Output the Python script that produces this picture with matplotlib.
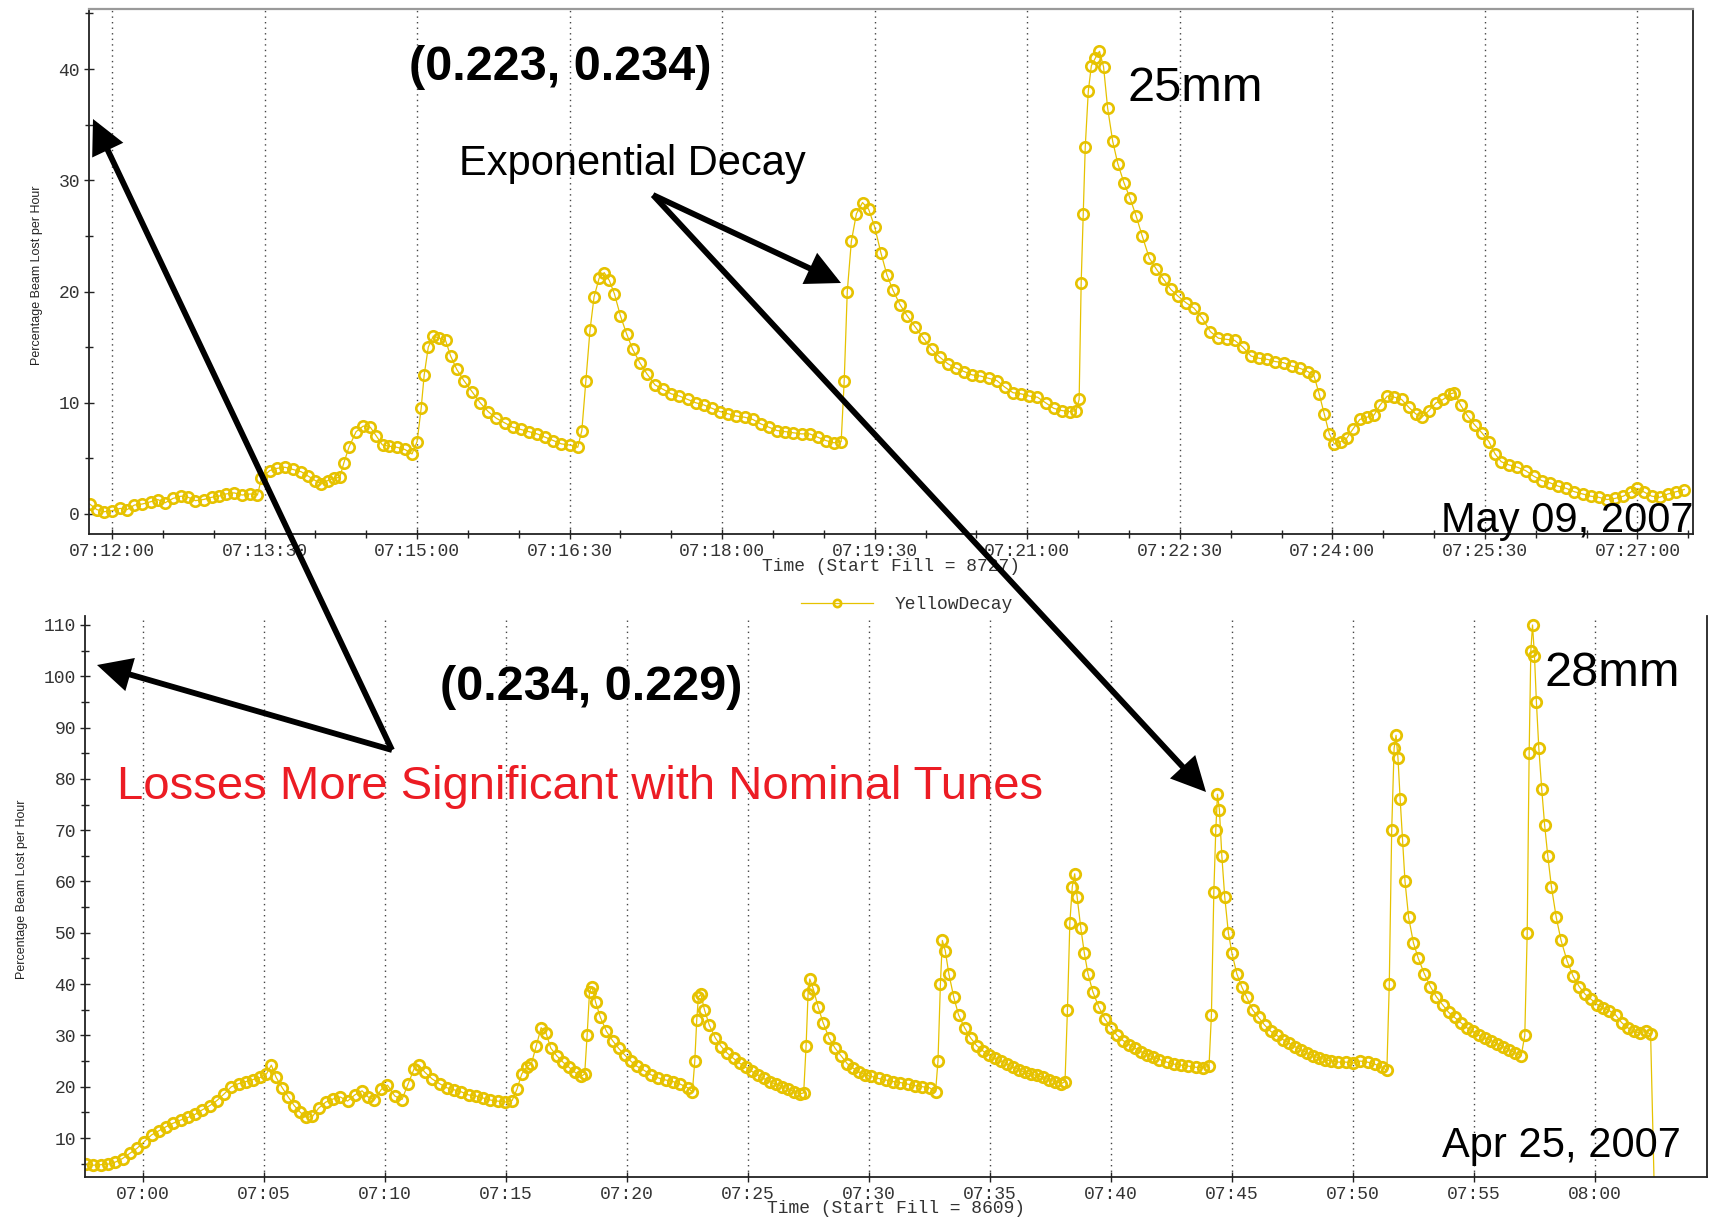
import matplotlib
matplotlib.use("Agg")
import matplotlib.pyplot as plt
from matplotlib import font_manager
from matplotlib.patches import FancyArrowPatch
from matplotlib.ticker import MultipleLocator, FuncFormatter
from matplotlib.transforms import Affine2D

# Fill 8727 (May 09, 2007): minutes after 07:00 and % beam lost per hour
may_minutes = [
    11.78, 11.85, 11.92, 12.00, 12.08, 12.15, 12.22, 12.30, 12.38, 12.45,
    12.52, 12.60, 12.68, 12.75, 12.82, 12.90, 12.98, 13.05, 13.12, 13.20,
    13.28, 13.36, 13.43, 13.47, 13.55, 13.62, 13.70, 13.78, 13.86, 13.93,
    14.00, 14.06, 14.12, 14.18, 14.24, 14.28, 14.33, 14.40, 14.47, 14.54,
    14.60, 14.66, 14.72, 14.80, 14.88, 14.95, 15.00, 15.04, 15.07, 15.11,
    15.16, 15.22, 15.28, 15.33, 15.39, 15.46, 15.54, 15.62, 15.70, 15.78,
    15.86, 15.94, 16.02, 16.10, 16.18, 16.26, 16.34, 16.42, 16.50, 16.58,
    16.62, 16.66, 16.70, 16.74, 16.79, 16.84, 16.89, 16.94, 17.00, 17.06,
    17.12, 17.19, 17.26, 17.34, 17.42, 17.50, 17.58, 17.66, 17.74, 17.82,
    17.90, 17.98, 18.06, 18.14, 18.22, 18.30, 18.38, 18.46, 18.54, 18.62,
    18.70, 18.78, 18.86, 18.94, 19.02, 19.10, 19.17, 19.20, 19.23, 19.27,
    19.32, 19.38, 19.44, 19.50, 19.56, 19.62, 19.68, 19.75, 19.82, 19.90,
    19.98, 20.06, 20.14, 20.22, 20.30, 20.38, 20.46, 20.54, 20.62, 20.70,
    20.78, 20.86, 20.94, 21.02, 21.10, 21.18, 21.26, 21.34, 21.42, 21.48,
    21.51, 21.53, 21.55, 21.57, 21.60, 21.63, 21.67, 21.71, 21.75, 21.79,
    21.84, 21.89, 21.95, 22.01, 22.07, 22.13, 22.20, 22.27, 22.34, 22.41,
    22.48, 22.56, 22.64, 22.72, 22.80, 22.88, 22.96, 23.04, 23.12, 23.20,
    23.28, 23.36, 23.44, 23.52, 23.60, 23.68, 23.76, 23.82, 23.87, 23.92,
    23.97, 24.02, 24.08, 24.14, 24.20, 24.27, 24.34, 24.41, 24.47, 24.54,
    24.61, 24.68, 24.75, 24.82, 24.88, 24.95, 25.02, 25.09, 25.16, 25.20,
    25.26, 25.33, 25.40, 25.47, 25.54, 25.60, 25.66, 25.74, 25.82, 25.90,
    25.98, 26.06, 26.14, 26.22, 26.30, 26.38, 26.46, 26.54, 26.62, 26.70,
    26.78, 26.86, 26.94, 27.00, 27.06, 27.14, 27.22, 27.30, 27.38, 27.46,
]
may_loss = [
    0.9, 0.4, 0.2, 0.3, 0.5, 0.4, 0.8, 0.9, 1.1, 1.3,
    1.0, 1.4, 1.6, 1.5, 1.2, 1.3, 1.5, 1.6, 1.8, 1.9,
    1.7, 1.8, 1.7, 3.2, 3.9, 4.1, 4.2, 4.0, 3.8, 3.4,
    3.0, 2.7, 3.0, 3.2, 3.3, 4.6, 6.0, 7.4, 7.9, 7.8,
    7.0, 6.2, 6.1, 6.0, 5.8, 5.4, 6.5, 9.5, 12.5, 15.0,
    16.0, 15.8, 15.6, 14.2, 13.0, 12.0, 11.0, 10.0, 9.2, 8.6,
    8.2, 7.8, 7.6, 7.4, 7.2, 6.9, 6.6, 6.3, 6.2, 6.0,
    7.5, 12.0, 16.5, 19.5, 21.2, 21.7, 21.0, 19.8, 17.8, 16.2,
    14.8, 13.6, 12.6, 11.6, 11.2, 10.8, 10.6, 10.3, 10.0, 9.8,
    9.5, 9.2, 9.0, 8.8, 8.7, 8.5, 8.1, 7.8, 7.5, 7.4,
    7.3, 7.2, 7.2, 6.9, 6.6, 6.4, 6.5, 12.0, 20.0, 24.5,
    27.0, 28.0, 27.4, 25.8, 23.5, 21.5, 20.1, 18.8, 17.8, 16.8,
    15.8, 14.8, 14.1, 13.5, 13.1, 12.8, 12.5, 12.4, 12.2, 12.0,
    11.4, 10.9, 10.8, 10.6, 10.5, 10.0, 9.5, 9.3, 9.2, 9.3,
    10.3, 20.8, 27.0, 33.0, 38.0, 40.3, 41.0, 41.6, 40.2, 36.5,
    33.5, 31.5, 29.8, 28.4, 26.8, 25.0, 23.0, 22.0, 21.1, 20.2,
    19.6, 19.0, 18.5, 17.6, 16.4, 15.8, 15.7, 15.6, 15.0, 14.2,
    14.0, 13.9, 13.7, 13.6, 13.3, 13.1, 12.8, 12.4, 10.8, 9.0,
    7.2, 6.3, 6.5, 6.8, 7.6, 8.5, 8.7, 8.9, 9.8, 10.6,
    10.5, 10.3, 9.6, 9.0, 8.7, 9.3, 10.0, 10.3, 10.8, 10.9,
    9.8, 8.8, 8.0, 7.3, 6.5, 5.4, 4.7, 4.4, 4.2, 3.9,
    3.4, 3.0, 2.8, 2.5, 2.3, 2.0, 1.8, 1.6, 1.5, 1.3,
    1.4, 1.6, 2.0, 2.3, 2.0, 1.6, 1.5, 1.8, 2.0, 2.2,
]

# Fill 8609 (Apr 25, 2007): minutes after 07:00 and % beam lost per hour
apr_minutes = [
    -2.35, -2.05, -1.75, -1.45, -1.15, -0.85, -0.55, -0.25, 0.05, 0.35,
    0.65, 0.95, 1.25, 1.55, 1.85, 2.15, 2.45, 2.75, 3.05, 3.35,
    3.65, 3.95, 4.25, 4.55, 4.85, 5.10, 5.30, 5.50, 5.75, 6.00,
    6.25, 6.50, 6.75, 7.00, 7.25, 7.55, 7.85, 8.15, 8.45, 8.75,
    9.05, 9.30, 9.55, 9.85, 10.10, 10.40, 10.70, 10.95, 11.20, 11.40,
    11.65, 11.95, 12.25, 12.55, 12.85, 13.15, 13.45, 13.75, 14.05, 14.35,
    14.65, 14.95, 15.25, 15.45, 15.65, 15.85, 16.05, 16.25, 16.45, 16.65,
    16.85, 17.10, 17.35, 17.60, 17.85, 18.10, 18.25, 18.35, 18.45, 18.55,
    18.70, 18.90, 19.15, 19.40, 19.65, 19.90, 20.15, 20.40, 20.70, 21.00,
    21.30, 21.60, 21.90, 22.20, 22.50, 22.70, 22.80, 22.88, 22.95, 23.05,
    23.20, 23.40, 23.65, 23.90, 24.15, 24.40, 24.65, 24.90, 25.15, 25.40,
    25.65, 25.90, 26.15, 26.40, 26.65, 26.90, 27.15, 27.30, 27.40, 27.48,
    27.55, 27.70, 27.90, 28.10, 28.35, 28.60, 28.85, 29.10, 29.35, 29.60,
    29.85, 30.10, 30.40, 30.70, 31.00, 31.30, 31.60, 31.90, 32.20, 32.50,
    32.75, 32.85, 32.95, 33.03, 33.15, 33.30, 33.50, 33.70, 33.95, 34.20,
    34.45, 34.70, 34.95, 35.20, 35.45, 35.70, 35.95, 36.20, 36.45, 36.70,
    36.95, 37.20, 37.45, 37.70, 37.95, 38.10, 38.20, 38.30, 38.40, 38.50,
    38.60, 38.75, 38.90, 39.05, 39.25, 39.50, 39.75, 40.00, 40.25, 40.50,
    40.75, 41.00, 41.25, 41.50, 41.75, 42.00, 42.30, 42.60, 42.90, 43.20,
    43.50, 43.80, 44.05, 44.15, 44.25, 44.33, 44.40, 44.48, 44.58, 44.70,
    44.85, 45.00, 45.20, 45.40, 45.60, 45.85, 46.10, 46.35, 46.60, 46.85,
    47.10, 47.35, 47.60, 47.85, 48.10, 48.35, 48.60, 48.85, 49.10, 49.40,
    49.70, 50.00, 50.30, 50.60, 50.90, 51.20, 51.40, 51.50, 51.60, 51.70,
    51.78, 51.86, 51.95, 52.05, 52.15, 52.30, 52.50, 52.70, 52.95, 53.20,
    53.45, 53.70, 53.95, 54.20, 54.45, 54.70, 54.95, 55.20, 55.45, 55.70,
    55.95, 56.20, 56.45, 56.70, 56.95, 57.10, 57.20, 57.28, 57.35, 57.42,
    57.50, 57.58, 57.68, 57.80, 57.92, 58.05, 58.20, 58.40, 58.60, 58.85,
    59.10, 59.35, 59.60, 59.85, 60.10, 60.35, 60.60, 60.85, 61.10, 61.35,
    61.60, 61.85, 62.10, 62.30, 62.45,
]
apr_loss = [
    4.9, 4.7, 4.8, 4.9, 5.3, 6.0, 7.0, 8.0, 9.3, 10.6,
    11.4, 12.2, 12.9, 13.5, 14.0, 14.6, 15.5, 16.3, 17.3, 18.6,
    20.0, 20.6, 21.0, 21.4, 21.8, 22.5, 24.2, 21.8, 19.8, 18.0,
    16.3, 15.0, 14.0, 14.2, 15.8, 17.0, 17.6, 18.0, 17.2, 18.4,
    19.2, 18.0, 17.4, 19.5, 20.3, 18.2, 17.5, 20.5, 23.5, 24.2,
    22.8, 21.5, 20.6, 19.8, 19.4, 19.0, 18.4, 18.2, 17.8, 17.4,
    17.2, 17.0, 17.3, 19.5, 22.5, 23.8, 24.5, 28.0, 31.5, 30.5,
    27.5, 26.0, 24.8, 23.8, 22.8, 22.0, 22.5, 30.0, 38.5, 39.5,
    36.5, 33.5, 30.8, 29.0, 27.5, 26.2, 25.0, 24.0, 23.2, 22.3,
    21.7, 21.3, 21.0, 20.5, 19.8, 19.0, 25.0, 33.0, 37.5, 38.0,
    35.0, 32.0, 29.5, 27.8, 26.5, 25.5, 24.6, 23.8, 23.0, 22.3,
    21.6, 21.0, 20.5, 20.0, 19.6, 19.0, 18.6, 18.8, 28.0, 38.0,
    41.0, 39.0, 35.5, 32.5, 29.5, 27.5, 26.0, 24.5, 23.6, 22.8,
    22.3, 22.0, 21.6, 21.3, 21.0, 20.8, 20.5, 20.2, 20.0, 19.8,
    19.0, 25.0, 40.0, 48.5, 46.5, 42.0, 37.5, 34.0, 31.5, 29.5,
    28.0, 27.0, 26.2, 25.5, 25.0, 24.4, 23.8, 23.3, 22.8, 22.4,
    22.2, 21.8, 21.3, 21.0, 20.6, 21.0, 35.0, 52.0, 59.0, 61.5,
    57.0, 51.0, 46.0, 42.0, 38.5, 35.5, 33.2, 31.5, 30.0, 29.0,
    28.2, 27.5, 26.8, 26.2, 25.8, 25.3, 24.8, 24.4, 24.2, 24.0,
    23.8, 23.7, 24.0, 34.0, 58.0, 70.0, 77.0, 74.0, 65.0, 57.0,
    50.0, 46.0, 42.0, 39.5, 37.5, 35.0, 33.5, 32.0, 30.8, 30.0,
    29.2, 28.5, 27.8, 27.2, 26.6, 26.0, 25.6, 25.3, 25.0, 24.8,
    24.8, 24.6, 25.0, 24.8, 24.4, 23.8, 23.2, 40.0, 70.0, 86.0,
    88.5, 84.0, 76.0, 68.0, 60.0, 53.0, 48.0, 45.0, 42.0, 39.5,
    37.5, 36.0, 34.5, 33.5, 32.5, 31.5, 30.8, 30.0, 29.5, 29.0,
    28.4, 27.8, 27.2, 26.6, 26.0, 30.0, 50.0, 85.0, 105.0, 110.0,
    104.0, 95.0, 86.0, 78.0, 71.0, 65.0, 59.0, 53.0, 48.5, 44.5,
    41.5, 39.5, 38.0, 37.0, 36.0, 35.3, 34.8, 34.0, 32.5, 31.5,
    30.8, 30.5, 30.8, 30.2, 0.0,
]

W, H = 1710, 1217
YELLOW = "#e6c200"
SANS = "Liberation Sans"
_installed = {f.name for f in font_manager.fontManager.ttflist}
NARROW = "Liberation Sans Narrow" if "Liberation Sans Narrow" in _installed else SANS

plt.rcParams["font.family"] = "Liberation Mono"

fig = plt.figure(figsize=(W / 100, H / 100), dpi=100)
fig.patch.set_facecolor("white")
# pixel coordinates measured from the top-left corner of the figure
px = Affine2D().scale(1 / W, -1 / H).translate(0, 1) + fig.transFigure

ax1 = fig.add_axes([89 / W, 1 - 534 / H, 1604 / W, 525 / H])
ax2 = fig.add_axes([85 / W, 1 - 1177 / H, 1622 / W, 561 / H])


def hms(m, _pos=None):
    total = int(round(m * 60))
    return f"{7 + total // 3600:02d}:{(total // 60) % 60:02d}:{total % 60:02d}"


def hm(m, _pos=None):
    total = int(round(m))
    return f"{7 + total // 60:02d}:{total % 60:02d}"


line_kw = dict(color=YELLOW, lw=0.9, marker="o", mfc="none", mec=YELLOW)
line, = ax1.plot(may_minutes, may_loss, label="YellowDecay", ms=7.5, mew=1.9, **line_kw)
ax2.plot(apr_minutes, apr_loss, ms=7.5, mew=2.0, **line_kw)

ax1.set_xlim(11.774, 27.546)
ax1.set_ylim(-1.8, 45.4)
ax2.set_xlim(-2.40, 64.63)
ax2.set_ylim(2.4, 111.75)

ax1.xaxis.set_major_locator(MultipleLocator(1.5))
ax1.xaxis.set_minor_locator(MultipleLocator(0.5))
ax1.xaxis.set_major_formatter(FuncFormatter(hms))
ax2.xaxis.set_major_locator(MultipleLocator(5))
ax2.xaxis.set_major_formatter(FuncFormatter(hm))
for ax in (ax1, ax2):
    ax.yaxis.set_major_locator(MultipleLocator(10))
    ax.yaxis.set_minor_locator(MultipleLocator(5))
    ax.tick_params(which="both", direction="inout", length=7, width=1.0,
                   colors="#222", labelcolor="#333", labelsize=13, pad=3)
    ax.tick_params(which="minor", length=6)
    ax.grid(axis="x", which="major", color="#444", linestyle=(0, (1, 3)), lw=1.0)
    for side in ("left", "bottom", "right"):
        ax.spines[side].set_color("#222")
        ax.spines[side].set_linewidth(1.3)
    ax.set_ylabel("Percentage Beam Lost per Hour", family=NARROW,
                  fontsize=9, color="#222")

ax1.spines["top"].set_color("#9a9a9a")
ax1.spines["top"].set_linewidth(1.6)
ax2.spines["top"].set_visible(False)

ax1.set_xlabel("Time (Start Fill = 8727)", fontsize=13, color="#333")
ax2.set_xlabel("Time (Start Fill = 8609)", fontsize=13, color="#333")
ax1.xaxis.set_label_coords(0.5, -0.046)
ax2.xaxis.set_label_coords(0.5, -0.041)
ax1.yaxis.set_label_coords(-0.0287, 0.493)
ax2.yaxis.set_label_coords(-0.0351, 0.513)

fig.legend(handles=[line], loc="center", bbox_to_anchor=(907 / W, 1 - 605 / H),
           frameon=False, fontsize=13, handlelength=4.0, handletextpad=1.2,
           borderpad=0, labelcolor="#333", markerscale=0.7)

# slide annotations
fig.text(560, 80, "(0.223, 0.234)", transform=px, ha="center", va="baseline",
         fontsize=35, fontweight="bold", family=SANS)
fig.text(1127, 101, "25mm", transform=px, ha="left", va="baseline",
         fontsize=35, family=SANS)
fig.text(632, 175, "Exponential Decay", transform=px, ha="center",
         va="baseline", fontsize=30, family=SANS)
fig.text(1693, 532, "May 09, 2007", transform=px, ha="right", va="baseline",
         fontsize=30, family=SANS)
fig.text(591, 700, "(0.234, 0.229)", transform=px, ha="center", va="baseline",
         fontsize=35, fontweight="bold", family=SANS)
fig.text(1544, 686, "28mm", transform=px, ha="left", va="baseline",
         fontsize=35, family=SANS)
fig.text(580, 799, "Losses More Significant with Nominal Tunes", transform=px,
         ha="center", va="baseline", fontsize=34, color="#ec1c24", family=SANS)
fig.text(1681, 1157, "Apr 25, 2007", transform=px, ha="right", va="baseline",
         fontsize=30, family=SANS)

arrows = [
    ((392, 750), (93, 119)),
    ((392, 750), (97, 665)),
    ((653, 195), (841, 283)),
    ((653, 195), (1206, 792)),
]
for tail, tip in arrows:
    fig.add_artist(FancyArrowPatch(
        tail, tip, transform=px, arrowstyle="-|>,head_length=0.9,head_width=0.45",
        mutation_scale=20, lw=4.2, color="black", shrinkA=0, shrinkB=0,
        joinstyle="miter", capstyle="butt"))

fig.savefig("out.png", dpi=100, facecolor="white")
